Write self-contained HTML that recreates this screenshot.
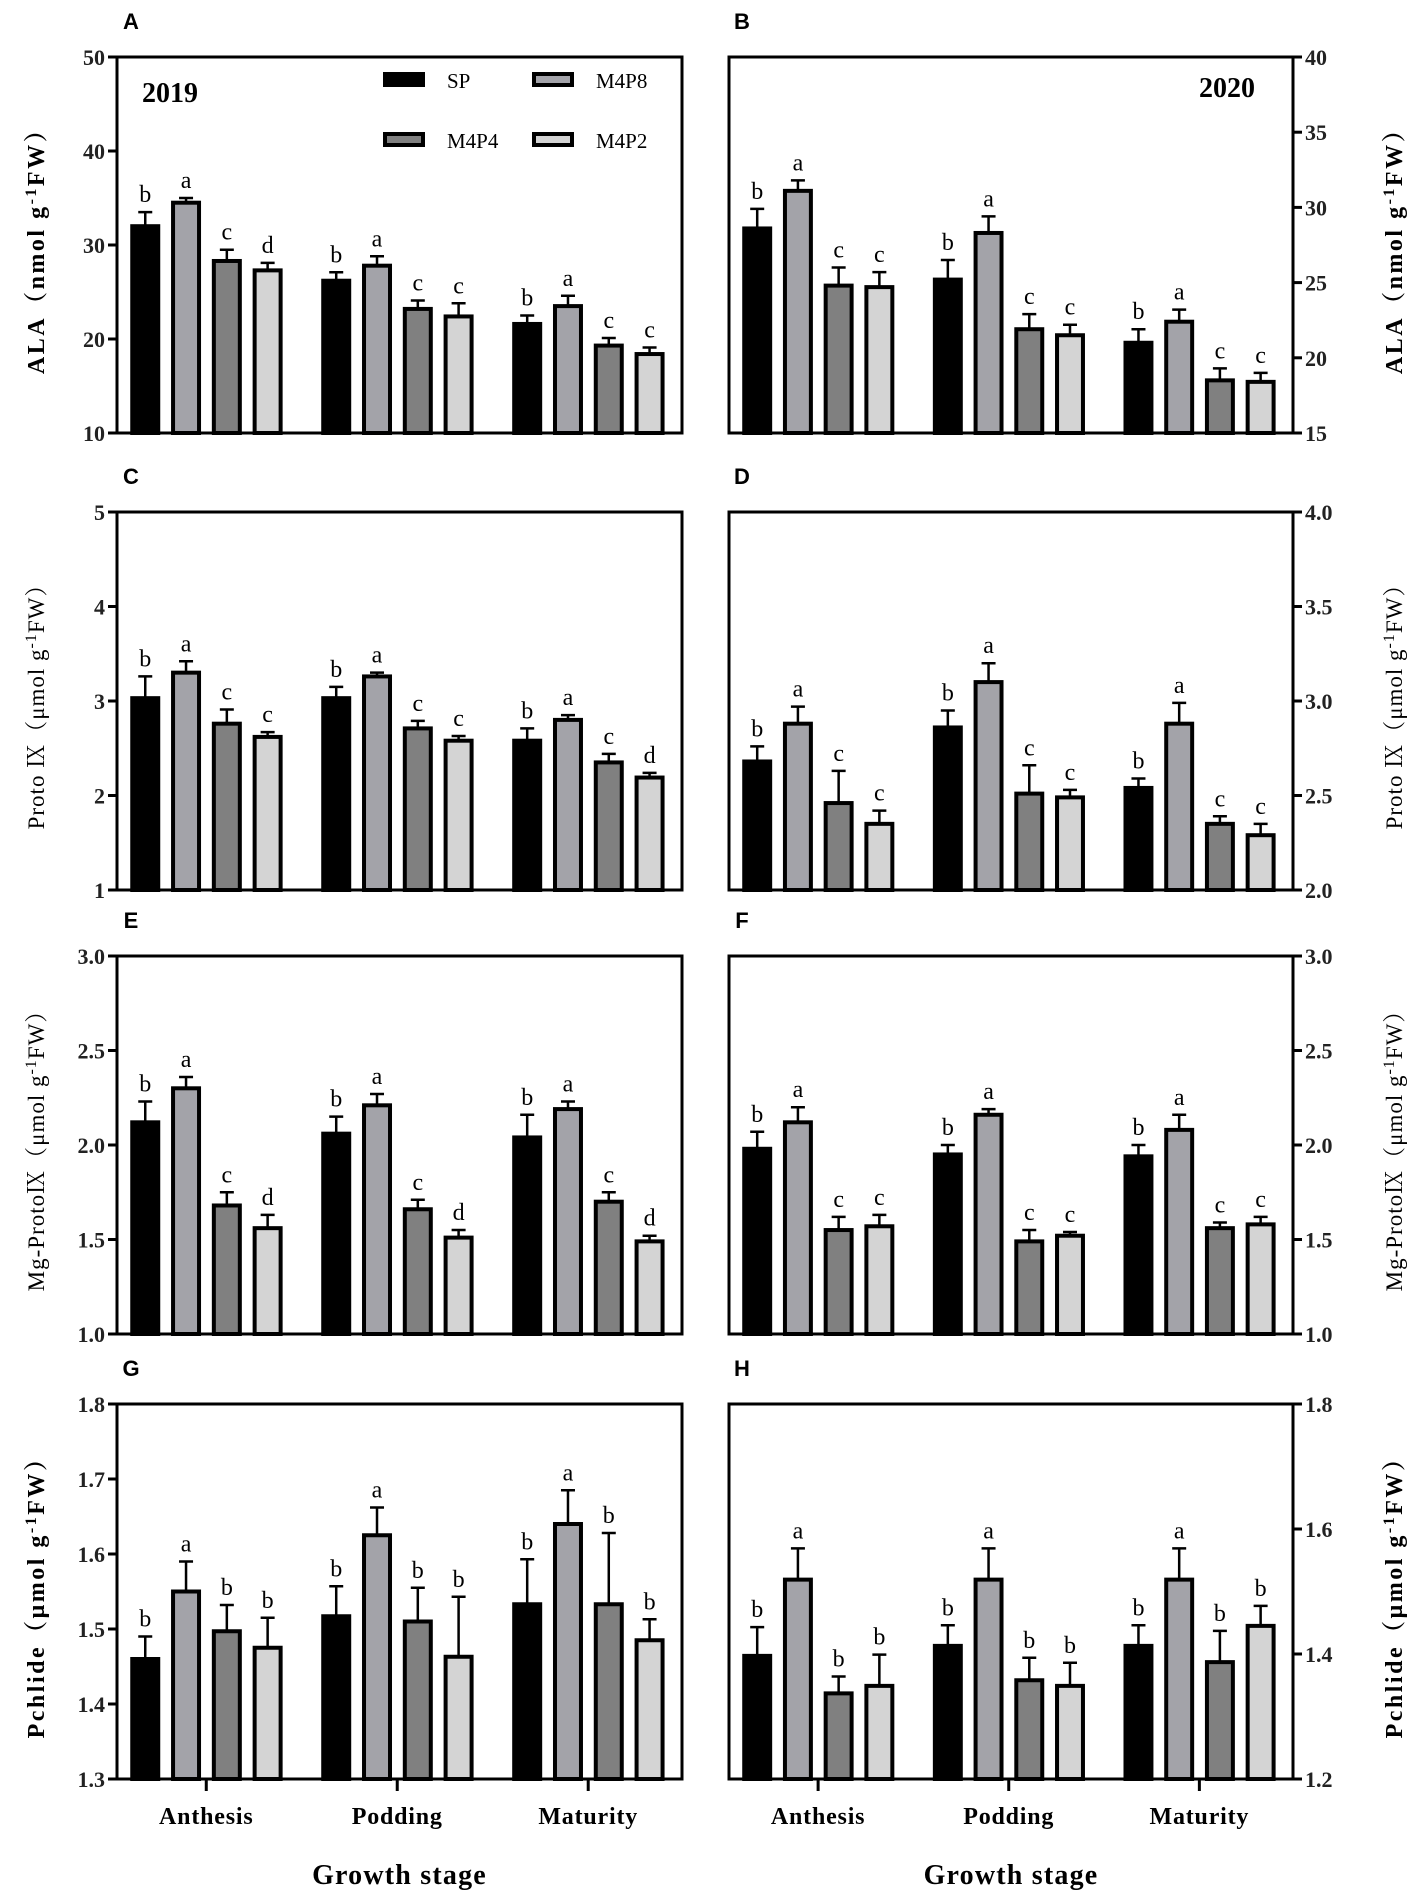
<!DOCTYPE html>
<html><head><meta charset="utf-8"><style>
html,body{margin:0;padding:0;background:#fff;}
svg{display:block;}
</style></head><body>
<svg id="fig" width="1417" height="1897" viewBox="0 0 1417 1897" xmlns="http://www.w3.org/2000/svg"></svg>
<script>
const categories = ["Anthesis","Podding","Maturity"];
const seriesNames = ["SP","M4P8","M4P4","M4P2"];

const alaVals19 = [32.0,34.5,28.3,27.3, 26.2,27.8,23.2,22.4, 21.6,23.5,19.3,18.4];
const alaErr19  = [1.5,0.5,1.2,0.8, 0.9,1.0,0.9,1.4, 0.9,1.1,0.8,0.7];
const alaSig19  = ["b","a","c","d","b","a","c","c","b","a","c","c"];
const alaVals20 = [28.6,31.1,24.8,24.7, 25.2,28.3,21.9,21.5, 21.0,22.4,18.5,18.4];
const alaErr20  = [1.3,0.7,1.2,1.0, 1.3,1.1,1.0,0.7, 0.9,0.8,0.8,0.6];
const alaSig20  = ["b","a","c","c","b","a","c","c","b","a","c","c"];

const protoVals19 = [3.03,3.30,2.76,2.62, 3.03,3.26,2.71,2.58, 2.58,2.80,2.35,2.19];
const protoErr19  = [0.23,0.12,0.15,0.05, 0.12,0.04,0.08,0.05, 0.13,0.05,0.09,0.05];
const protoSig19  = ["b","a","c","c","b","a","c","c","b","a","c","d"];
const protoVals20 = [2.68,2.88,2.46,2.35, 2.86,3.10,2.51,2.49, 2.54,2.88,2.35,2.29];
const protoErr20  = [0.08,0.09,0.17,0.07, 0.09,0.10,0.15,0.04, 0.05,0.11,0.04,0.06];
const protoSig20  = ["b","a","c","c","b","a","c","c","b","a","c","c"];

const mgVals19 = [2.12,2.30,1.68,1.56, 2.06,2.21,1.66,1.51, 2.04,2.19,1.70,1.49];
const mgErr19  = [0.11,0.06,0.07,0.07, 0.09,0.06,0.05,0.04, 0.12,0.04,0.05,0.03];
const mgSig19  = ["b","a","c","d","b","a","c","d","b","a","c","d"];
const mgVals20 = [1.98,2.12,1.55,1.57, 1.95,2.16,1.49,1.52, 1.94,2.08,1.56,1.58];
const mgErr20  = [0.09,0.08,0.07,0.06, 0.05,0.03,0.06,0.02, 0.06,0.08,0.03,0.04];
const mgSig20  = ["b","a","c","c","b","a","c","c","b","a","c","c"];

const pchVals19 = [1.46,1.55,1.497,1.475, 1.517,1.625,1.51,1.463, 1.533,1.64,1.533,1.485];
const pchErr19  = [0.03,0.04,0.035,0.04, 0.04,0.037,0.045,0.08, 0.06,0.045,0.095,0.028];
const pchSig19  = ["b","a","b","b","b","a","b","b","b","a","b","b"];
const pchVals20 = [1.397,1.519,1.337,1.349, 1.413,1.519,1.358,1.349, 1.413,1.519,1.387,1.445];
const pchErr20  = [0.046,0.05,0.027,0.05, 0.033,0.05,0.036,0.037, 0.033,0.05,0.05,0.032];
const pchSig20  = ["b","a","b","b","b","a","b","b","b","a","b","b"];

const ticksA = ["10","20","30","40","50"];
const ticksB = ["15","20","25","30","35","40"];
const ticksC = ["1","2","3","4","5"];
const ticksD = ["2.0","2.5","3.0","3.5","4.0"];
const ticksEF = ["1.0","1.5","2.0","2.5","3.0"];
const ticksG = ["1.3","1.4","1.5","1.6","1.7","1.8"];
const ticksH = ["1.2","1.4","1.6","1.8"];

const NS = "http://www.w3.org/2000/svg";
const svg = document.getElementById("fig");
const fills = ["#000000","#a3a3a9","#808080","#d4d4d4"];
const SERIF = '"Liberation Serif", "Noto Serif CJK SC", serif';
const SANS = '"Liberation Sans", sans-serif';

function mk(tag, attrs, parent){
  const e = document.createElementNS(NS, tag);
  for (const k in attrs) e.setAttribute(k, attrs[k]);
  (parent||svg).appendChild(e);
  return e;
}

const panels = [
  {id:"a", letter:"A", side:"L", x0:117, x1:682, y0:57, y1:433, ticks:ticksA, vals:alaVals19, err:alaErr19, sig:alaSig19, t1:"ALA（nmol  g", t2:"FW）", bold:true},
  {id:"b", letter:"B", side:"R", x0:729, x1:1293, y0:57, y1:433, ticks:ticksB, vals:alaVals20, err:alaErr20, sig:alaSig20, t1:"ALA（nmol  g", t2:"FW）", bold:true},
  {id:"c", letter:"C", side:"L", x0:117, x1:682, y0:512, y1:890, ticks:ticksC, vals:protoVals19, err:protoErr19, sig:protoSig19, t1:"Proto Ⅸ（μmol  g", t2:"FW）", bold:false},
  {id:"d", letter:"D", side:"R", x0:729, x1:1293, y0:512, y1:890, ticks:ticksD, vals:protoVals20, err:protoErr20, sig:protoSig20, t1:"Proto Ⅸ（μmol  g", t2:"FW）", bold:false},
  {id:"e", letter:"E", side:"L", x0:117, x1:682, y0:956, y1:1334, ticks:ticksEF, vals:mgVals19, err:mgErr19, sig:mgSig19, t1:"Mg-ProtoⅨ（μmol  g", t2:"FW）", bold:false},
  {id:"f", letter:"F", side:"R", x0:729, x1:1293, y0:956, y1:1334, ticks:ticksEF, vals:mgVals20, err:mgErr20, sig:mgSig20, t1:"Mg-ProtoⅨ（μmol  g", t2:"FW）", bold:false},
  {id:"g", letter:"G", side:"L", x0:117, x1:682, y0:1404, y1:1779, ticks:ticksG, vals:pchVals19, err:pchErr19, sig:pchSig19, t1:"Pchlide（μmol  g", t2:"FW）", bold:true, bottom:true},
  {id:"h", letter:"H", side:"R", x0:729, x1:1293, y0:1404, y1:1779, ticks:ticksH, vals:pchVals20, err:pchErr20, sig:pchSig20, t1:"Pchlide（μmol  g", t2:"FW）", bold:true, bottom:true}
];

panels.forEach(p => {
  const g = mk("g", {});
  
  
  const W = p.x1 - p.x0;
  const tmin = parseFloat(p.ticks[0]), tmax = parseFloat(p.ticks[p.ticks.length-1]);
  const yScale = v => p.y1 - (v - tmin) / (tmax - tmin) * (p.y1 - p.y0);
  const xCenter = i => p.x0 + W * (0.05 + Math.floor(i/4) * 0.338 + (i%4) * 0.0722);
  const bw = W * 0.046;

  const lx = p.side === "L" ? 131 : 742;
  const lt = mk("text", {x:lx, y:p.y0 - 28, "font-family":SANS, "font-weight":"bold", "font-size":"22", fill:"#000", "text-anchor":"middle"}, g);
  lt.textContent = p.letter;
  
  

  p.vals.forEach((v, i) => {
    const cx = xCenter(i);
    const top = yScale(v);
    const r = mk("rect", {x:cx - bw/2, y:top, width:bw, height:p.y1 - top, fill:fills[i%4], stroke:"#000", "stroke-width":"4"}, g);
    
    
    const et = yScale(v + p.err[i]);
    const el = mk("path", {d:`M${cx},${top} L${cx},${et} M${cx-7},${et} L${cx+7},${et}`, stroke:"#000", "stroke-width":"2.5", fill:"none"}, g);
    
    
    const st = mk("text", {x:cx, y:et - 10, "font-family":SERIF, "font-size":"24", fill:"#000", "text-anchor":"middle"}, g);
    st.textContent = p.sig[i];
    
    
  });

  const fr = mk("rect", {x:p.x0, y:p.y0, width:W, height:p.y1 - p.y0, fill:"none", stroke:"#000", "stroke-width":"3"}, g);
  
  

  p.ticks.forEach(t => {
    const y = yScale(parseFloat(t));
    const ax = p.side === "L" ? p.x0 : p.x1;
    const dx = p.side === "L" ? -9 : 9;
    const tk = mk("line", {x1:ax, y1:y, x2:ax + dx, y2:y, stroke:"#000", "stroke-width":"3"}, g);
    
    
    const tl = mk("text", {x: p.side === "L" ? p.x0 - 12 : p.x1 + 12, y:y + 8, "font-family":SERIF, "font-weight":"bold", "font-size":"22", fill:"#222", "text-anchor": p.side === "L" ? "end" : "start"}, g);
    tl.textContent = t;
    
    
  });

  const tx = p.side === "L" ? 44 : 1402;
  const ty = (p.y0 + p.y1) / 2;
  const yt = mk("text", {x:tx, y:ty, transform:`rotate(-90 ${tx} ${ty})`, "font-family":SERIF, "font-weight": p.bold ? "bold" : "normal", "font-size": p.bold ? "24" : "23", "letter-spacing": p.bold ? "2.5" : "1", fill:"#000", "text-anchor":"middle"}, g);
  
  
  const s1 = mk("tspan", {}, yt); s1.textContent = p.t1;
  const s2 = mk("tspan", {"baseline-shift":"super", "font-size":"16"}, yt); s2.textContent = "-1";
  const s3 = mk("tspan", {}, yt); s3.textContent = p.t2;

  if (p.bottom) {
    categories.forEach((c, k) => {
      const gx = p.x0 + W * (0.158 + k * 0.338);
      const xt = mk("line", {x1:gx, y1:p.y1, x2:gx, y2:p.y1 + 12, stroke:"#000", "stroke-width":"3"}, g);
      
      
      const cl = mk("text", {x:gx, y:p.y1 + 45, "font-family":SERIF, "font-weight":"bold", "font-size":"24", "letter-spacing":"0.8", fill:"#000", "text-anchor":"middle"}, g);
      cl.textContent = c;
      
      
    });
    const gt = mk("text", {x:(p.x0 + p.x1)/2, y:1884, "font-family":SERIF, "font-weight":"bold", "font-size":"28", "letter-spacing":"1.2", fill:"#000", "text-anchor":"middle"}, g);
    gt.textContent = "Growth stage";
    
    
  }
});

const y19 = mk("text", {x:142, y:102, "font-family":SERIF, "font-weight":"bold", "font-size":"28", fill:"#000"});
y19.textContent = "2019";


const y20 = mk("text", {x:1199, y:97, "font-family":SERIF, "font-weight":"bold", "font-size":"28", fill:"#000"});
y20.textContent = "2020";



const legPos = [[385,80],[534,80],[385,140],[534,140]];
seriesNames.forEach((n, i) => {
  const lg = mk("g", {});
  
  
  const [lx, ly] = legPos[i];
  mk("rect", {x:lx, y:ly - 6, width:38, height:11, fill:fills[i], stroke:"#000", "stroke-width":"4"}, lg);
  const t = mk("text", {x:lx + 62, y:ly + 8, "font-family":SERIF, "font-size":"21", fill:"#000"}, lg);
  t.textContent = n;
});
</script>
</body></html>
